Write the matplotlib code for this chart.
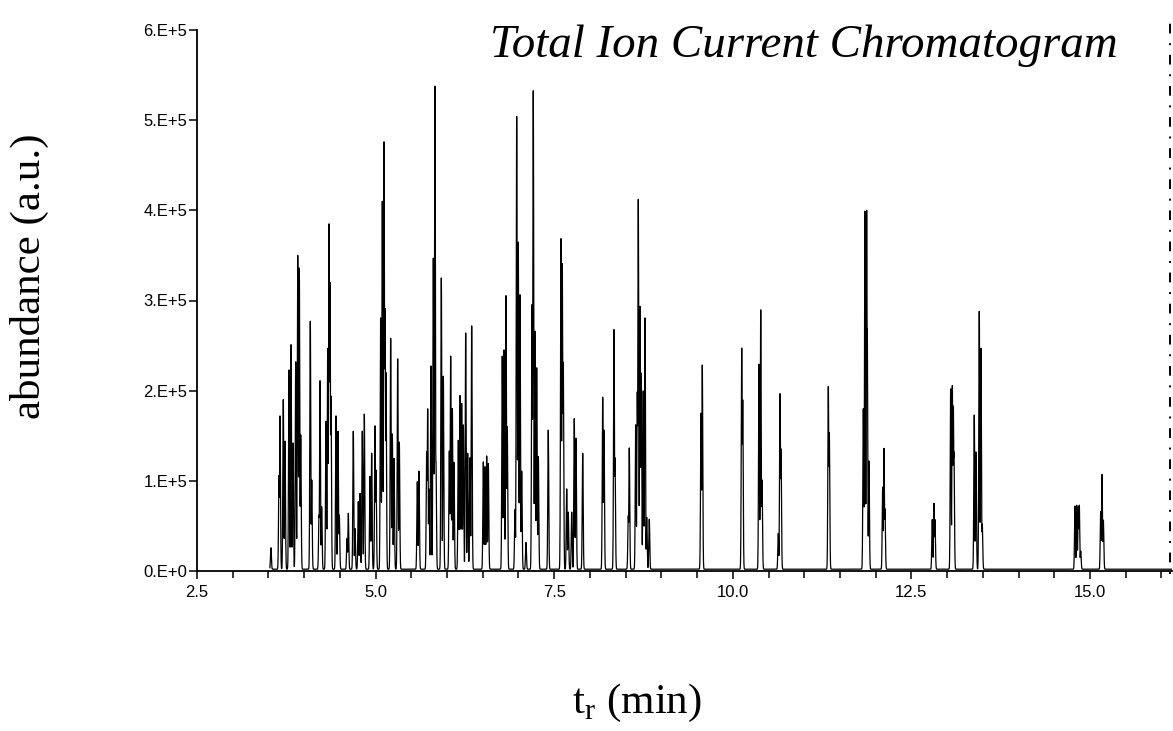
import numpy as np
import matplotlib
matplotlib.use('Agg')
import matplotlib.pyplot as plt
from matplotlib.ticker import MultipleLocator, FuncFormatter

# peak retention times (min) and apex abundance
t_peaks = [3.535, 3.648, 3.662, 3.708, 3.732, 3.788, 3.816, 3.844, 3.882, 3.910,
           3.932, 3.952, 4.086, 4.106, 4.208, 4.222, 4.245, 4.306, 4.330, 4.348,
           4.362, 4.376, 4.446, 4.474, 4.492, 4.600, 4.618, 4.688, 4.712, 4.758,
           4.782, 4.814, 4.842, 4.922, 4.945, 4.992, 5.006, 5.071, 5.094, 5.118,
           5.132, 5.146, 5.211, 5.234, 5.258, 5.309, 5.332,
           5.584, 5.607, 5.715, 5.729, 5.747, 5.775, 5.808, 5.831, 5.845,
           5.920, 5.948, 6.032, 6.051, 6.074, 6.097, 6.158, 6.181, 6.205, 6.228,
           6.261, 6.289, 6.321, 6.345, 6.508, 6.531, 6.555, 6.578, 6.773, 6.797,
           6.825, 6.843, 6.951, 6.975, 6.997, 7.021, 7.045, 7.105, 7.189, 7.207,
           7.231, 7.255, 7.278, 7.417, 7.595, 7.613, 7.627, 7.675, 7.697, 7.745,
           7.781, 7.805, 7.899, 8.179, 8.197, 8.337, 8.351, 8.537, 8.551, 8.641,
           8.663, 8.677, 8.701, 8.719, 8.747, 8.771, 8.795, 8.831,
           9.555, 9.573, 10.125, 10.139, 10.367, 10.391, 10.409, 10.637, 10.661, 10.675,
           11.337, 11.351, 11.827, 11.850, 11.874, 11.882, 11.906, 12.098, 12.116, 12.130,
           12.792, 12.816, 12.830, 13.050, 13.073, 13.087, 13.096, 13.380, 13.404, 13.450,
           13.474, 13.492, 14.790, 14.814, 14.836, 14.850, 14.870, 15.150, 15.168, 15.187]
h_peaks = [0.24, 1.04, 1.70, 1.88, 1.42, 2.21, 2.49, 1.40, 2.30, 3.48,
           3.34, 1.49, 2.75, 0.99, 0.60, 2.09, 0.70, 1.64, 2.45, 3.83,
           3.18, 1.92, 1.70, 1.53, 0.60, 0.34, 0.62, 1.53, 0.45, 0.75,
           0.84, 1.53, 1.72, 1.03, 1.30, 1.59, 1.10, 2.82, 4.08, 4.74,
           2.89, 2.18, 2.59, 1.50, 1.23, 2.36, 1.41,
           0.97, 1.10, 1.32, 1.80, 0.90, 2.28, 3.45, 5.42, 1.20,
           3.23, 2.14, 1.31, 2.39, 1.78, 1.20, 1.43, 1.95, 1.86, 1.60,
           2.65, 1.30, 1.25, 2.73, 1.19, 1.15, 1.27, 1.17, 2.39, 2.46,
           3.07, 1.60, 0.67, 5.08, 3.67, 3.08, 1.10, 0.30, 2.97, 5.37,
           2.67, 2.26, 1.25, 1.56, 3.71, 3.43, 2.32, 0.90, 0.64, 0.64,
           1.69, 1.47, 1.30, 1.93, 1.56, 2.69, 1.25, 0.60, 1.36, 1.62,
           1.99, 4.15, 2.95, 2.20, 2.00, 2.82, 0.58, 0.56,
           1.75, 2.29, 2.48, 1.90, 2.30, 2.91, 1.00, 0.40, 1.97, 1.35,
           2.05, 1.53, 1.80, 3.97, 3.98, 2.67, 1.20, 0.91, 1.34, 0.67,
           0.55, 0.73, 0.55, 2.00, 2.06, 1.83, 1.30, 1.71, 1.30, 2.86,
           2.45, 0.50, 0.70, 0.71, 0.69, 0.71, 0.20, 0.64, 1.05, 0.55]
t_peaks = np.array(t_peaks)
h_peaks = np.array(h_peaks) * 1e5

t_start = 3.52
t_end = 16.15
baseline = 2000.

# build the trace from the peak list (narrow gaussian for each peak)
t = np.arange(t_start, t_end, 0.002)
sig = 0.0065
trace = np.zeros_like(t)
for t0, h in zip(t_peaks, h_peaks):
    trace = np.maximum(trace, h*np.exp(-0.5*((t-t0)/sig)**2))
trace = trace + baseline

plt.rcParams['font.family'] = ['Liberation Sans', 'DejaVu Sans']
plt.rcParams['mathtext.fontset'] = 'custom'
plt.rcParams['mathtext.rm'] = 'Liberation Serif'

fig = plt.figure(figsize=(11.73, 7.31), dpi=100)
ax = fig.add_axes([197/1173, 160/731, 975/1173, 541/731])
ax.plot(t, trace, '-', color='black', lw=0.9)

ax.set_xlim(2.5, 2.5 + 975/71.44)
ax.set_ylim(0, 6e5)

for s in ['top', 'right']:
    ax.spines[s].set_visible(False)
ax.spines['left'].set_linewidth(1.3)
ax.spines['bottom'].set_linewidth(1.3)

ax.xaxis.set_major_locator(MultipleLocator(2.5))
ax.xaxis.set_minor_locator(MultipleLocator(0.5))
ax.yaxis.set_major_locator(MultipleLocator(1e5))
ax.xaxis.set_major_formatter(FuncFormatter(lambda v, p: '%.1f' % v))


def sci_fmt(v, p):
    if v <= 0:
        return '0.E+0'
    e = int(np.floor(np.log10(v)))
    return '%d.E+%d' % (round(v/10**e), e)


ax.yaxis.set_major_formatter(FuncFormatter(sci_fmt))
ax.tick_params(axis='both', which='both', direction='out', labelsize=12, width=1.1)
ax.tick_params(axis='x', which='major', length=6, pad=4)
ax.tick_params(axis='x', which='minor', length=5)
ax.tick_params(axis='y', length=6, pad=1)

# dashed marker at the right end of the run
ax.axvline(16.12, ymin=-0.006, ymax=1.02, color='black', lw=1.4,
           dashes=(1, 5, 5, 5), clip_on=False)

fig.text(0.685, 0.937, 'Total Ion Current Chromatogram', ha='center', va='center',
         fontsize=33.8, style='italic', family='Liberation Serif')
fig.text(29/1173, 1-276/731, 'abundance (a.u.)', ha='center', va='center',
         rotation=90, fontsize=31, family='Liberation Serif')
fig.text(637/1173, 1-703/731, r't$_\mathregular{r}$ (min)', ha='center', va='center',
         fontsize=31, family='Liberation Serif')

plt.savefig('out.png', dpi=100)
